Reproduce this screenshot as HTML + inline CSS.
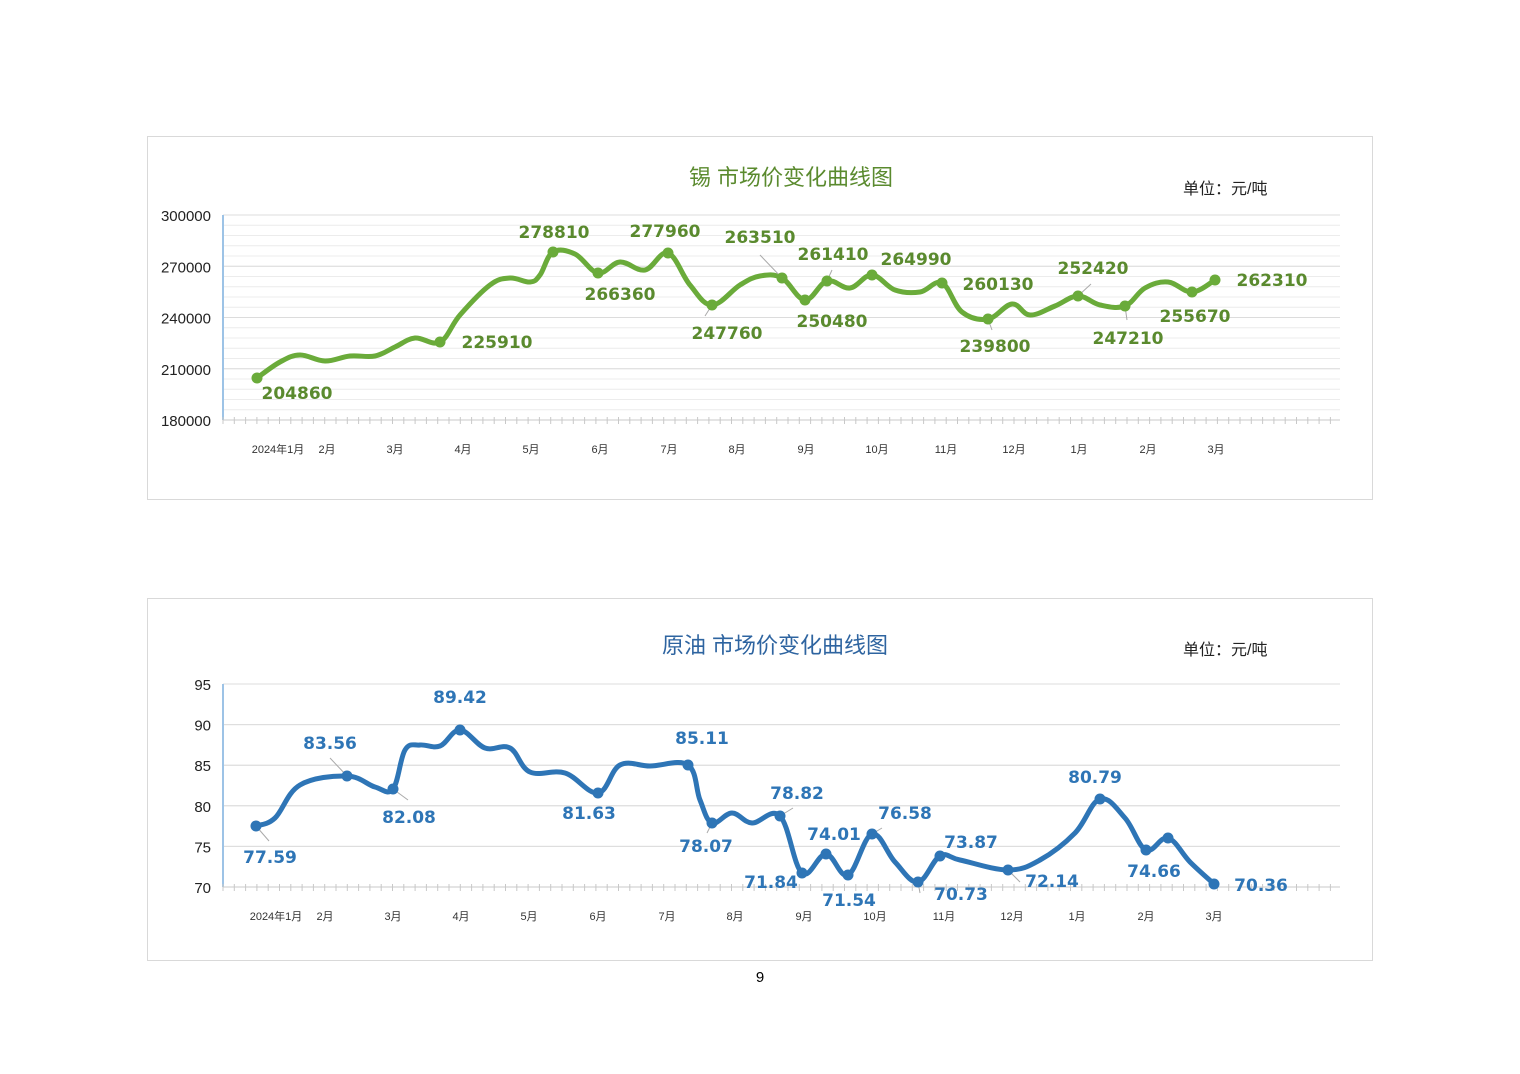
<!DOCTYPE html>
<html><head><meta charset="utf-8"><style>
html,body{margin:0;padding:0;background:#fff;width:1520px;height:1074px;overflow:hidden}
svg{display:block}
text{font-family:"Liberation Sans","Noto Sans CJK SC",sans-serif}
text.lb{font-family:"DejaVu Sans","Liberation Sans",sans-serif}
</style></head><body>
<svg id="s" width="1520" height="1074" xmlns="http://www.w3.org/2000/svg">
<rect x="147.5" y="136.5" width="1225" height="363" fill="#fff" stroke="#d9d9d9"/>
<rect x="147.5" y="598.5" width="1225" height="362" fill="#fff" stroke="#d9d9d9"/>
<text x="791" y="185" font-size="22" fill="#5a8a2e" text-anchor="middle">锡  市场价变化曲线图</text>
<text x="1183" y="194" font-size="16" fill="#222">单位：元/吨</text>
<text x="775" y="653" font-size="22" fill="#2e64a0" text-anchor="middle">原油  市场价变化曲线图</text>
<text x="1183" y="655" font-size="16" fill="#222">单位：元/吨</text>
<text x="760" y="982" font-size="15" fill="#000" text-anchor="middle">9</text>
<g id="g"></g>
</svg>
<script>
var g=document.getElementById('g'),NS='http://www.w3.org/2000/svg';
function el(t,a,txt){var e=document.createElementNS(NS,t);for(var k in a)e.setAttribute(k,a[k]);if(txt!=null)e.textContent=txt;g.appendChild(e);return e;}
function smooth(p){var d='M'+p[0][0]+','+p[0][1];for(var i=0;i<p.length-1;i++){var p0=p[i-1]||p[i],p1=p[i],p2=p[i+1],p3=p[i+2]||p2;var t=0.18;d+=' C'+(p1[0]+(p2[0]-p0[0])*t)+','+(p1[1]+(p2[1]-p0[1])*t)+' '+(p2[0]-(p3[0]-p1[0])*t)+','+(p2[1]-(p3[1]-p1[1])*t)+' '+p2[0]+','+p2[1];}return d;}
function chart(o){
 for(var y=o.top;y<=o.bot+0.1;y+=o.minor){el('line',{x1:223,x2:1340,y1:y,y2:y,stroke:o.minor<20?'#ececec':'#e3e3e3','stroke-width':1});}
 o.ticks.forEach(function(t,i){var y=o.bot-i*o.step;el('line',{x1:223,x2:1340,y1:y,y2:y,stroke:'#dcdcdc'});el('text',{x:211,y:y+6,'font-size':15,fill:'#222','text-anchor':'end'},t);});
 el('line',{x1:223,x2:223,y1:o.top,y2:o.bot,stroke:'#9dc3e6','stroke-width':2});
 el('line',{x1:223,x2:1340,y1:o.bot,y2:o.bot,stroke:'#c8c8c8'});
 for(var x=223;x<=1340;x+=11.3){el('line',{x1:x,x2:x,y1:o.bot-3,y2:o.bot+4,stroke:'#c8c8c8'});}
 var xl=[['2024年1月',278],['2月',327],['3月',395],['4月',463],['5月',531],['6月',600],['7月',669],['8月',737],['9月',806],['10月',877],['11月',946],['12月',1014],['1月',1079],['2月',1148],['3月',1216]];
 xl.forEach(function(a){el('text',{x:a[1]+o.dx,y:o.bot+33,'font-size':11,fill:'#333','text-anchor':'middle'},a[0]);});
 el('path',{d:smooth(o.pts),fill:'none',stroke:o.col,'stroke-width':5,'stroke-linejoin':'round','stroke-linecap':'round'});
 o.labels.forEach(function(l){
  if(l[5])el('line',{x1:l[0],y1:l[1],x2:l[5][0],y2:l[5][1],stroke:'#aaa','stroke-width':1});
  el('circle',{cx:l[0],cy:l[1],r:5.5,fill:o.col});
  el('text',{'class':'lb',x:l[3],y:l[4],'font-size':17,'font-weight':'bold',fill:o.lc,'text-anchor':'middle'},l[2]);
 });
}
chart({top:215,bot:420,step:51.25,minor:10.25,ticks:['180000','210000','240000','270000','300000'],col:'#6aab3a',lc:'#5a8a2e',dx:0,
pts:[[257,378],[280,362],[300,355],[325,361],[350,356],[375,356],[395,347],[415,338],[440,342],[460,315],[490,285],[510,278],[530,282],[540,275],[553,252],[575,254],[598,273],[620,262],[645,270],[668,253],[690,285],[712,305],[740,285],[760,276],[782,278],[805,300],[827,281],[850,288],[872,275],[895,290],[920,292],[942,283],[962,312],[988,319],[1012,304],[1030,315],[1055,306],[1078,296],[1100,305],[1125,306],[1145,288],[1168,282],[1192,292],[1215,280]],
labels:[[257,378,'204860',297,399],[440,342,'225910',497,348],[553,252,'278810',554,238],[598,273,'266360',620,300],[668,253,'277960',665,237],[712,305,'247760',727,339,[705,316]],[782,278,'263510',760,243,[760,255]],[805,300,'250480',832,327],[827,281,'261410',833,260,[832,270]],[872,275,'264990',916,265],[942,283,'260130',998,290],[988,319,'239800',995,352,[992,330]],[1078,296,'252420',1093,274,[1091,284]],[1125,306,'247210',1128,344,[1127,320]],[1192,292,'255670',1195,322],[1215,280,'262310',1272,286]]});
chart({top:684,bot:887,step:40.6,minor:40.6,ticks:['70','75','80','85','90','95'],col:'#2e75b6',lc:'#2e75b6',dx:-2,
pts:[[256,826],[275,818],[300,785],[347,776],[375,787],[393,789],[405,750],[420,745],[440,746],[460,730],[485,748],[510,748],[530,772],[565,773],[598,793],[620,765],[650,766],[688,765],[700,800],[712,823],[732,813],[752,823],[780,816],[802,873],[826,854],[848,875],[872,834],[895,862],[918,882],[940,856],[960,860],[1008,870],[1040,860],[1075,833],[1100,799],[1125,818],[1146,850],[1168,838],[1190,862],[1214,884]],
labels:[[256,826,'77.59',270,863,[269,841]],[347,776,'83.56',330,749,[330,758]],[393,789,'82.08',409,823,[408,800]],[460,730,'89.42',460,703],[598,793,'81.63',589,819],[688,765,'85.11',702,744],[712,823,'78.07',706,852,[707,833]],[780,816,'78.82',797,799,[793,808]],[802,873,'71.84',771,888],[826,854,'74.01',834,840],[848,875,'71.54',849,906],[872,834,'76.58',905,819,[882,828]],[918,882,'70.73',961,900,[920,893]],[940,856,'73.87',971,848],[1008,870,'72.14',1052,887,[1020,882]],[1100,799,'80.79',1095,783],[1146,850,'74.66',1154,877],[1168,838,'',0,0],[1214,884,'70.36',1261,891]]});
</script>
</body></html>
